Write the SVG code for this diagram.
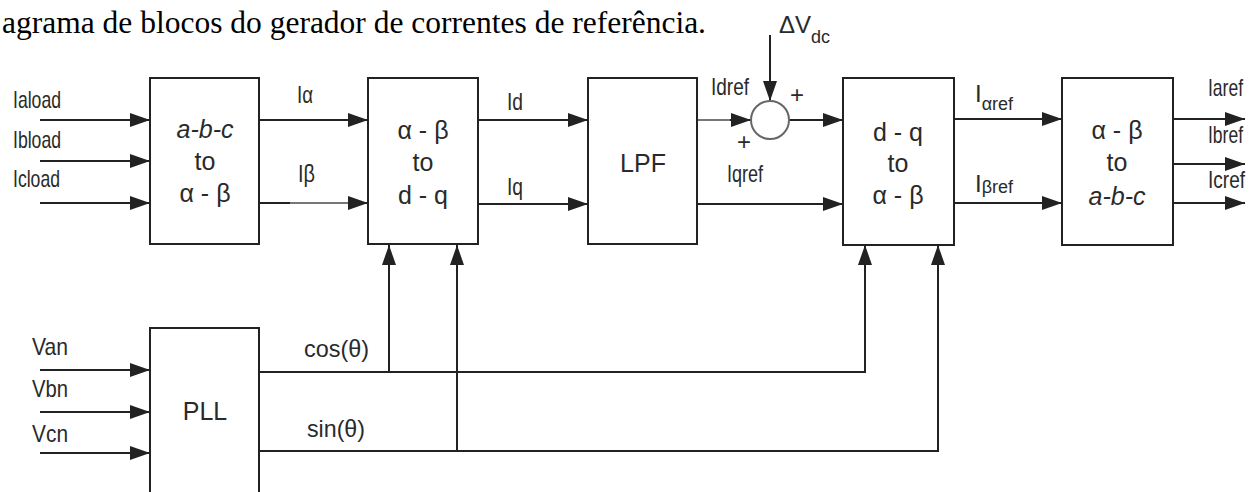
<svg xmlns="http://www.w3.org/2000/svg" width="1260" height="492" viewBox="0 0 1260 492">
<style>
.box{fill:#fff;stroke:#222;stroke-width:2}
.ln{fill:none;stroke:#222;stroke-width:2}
.lg{fill:none;stroke:#777;stroke-width:2}
.bt{font-family:"Liberation Sans",Arial,sans-serif;font-size:25px;fill:#2a2a2a;text-anchor:middle}
.lb{font-family:"Liberation Sans",Arial,sans-serif;font-size:24px;fill:#2a2a2a}
.sb{font-size:18px}
.pl{font-family:"Liberation Sans",Arial,sans-serif;font-size:24px;fill:#2a2a2a;text-anchor:middle}
.title{font-family:"Liberation Serif","Times New Roman",serif;font-size:31.5px;fill:#000}
</style>
<defs>
<marker id="ah" markerUnits="userSpaceOnUse" markerWidth="20" markerHeight="14" refX="20" refY="7" orient="auto">
<path d="M0,0 L20,7 L0,14 Z" fill="#222"/>
</marker>
</defs>
<rect width="1260" height="492" fill="#fff"/>
<text class="title" x="2" y="33">agrama de blocos do gerador de correntes de referência.</text>

<g id="connectors">
<path class="ln" d="M40,120 H150" marker-end="url(#ah)"/>
<path class="ln" d="M40,161 H150" marker-end="url(#ah)"/>
<path class="ln" d="M40,203 H150" marker-end="url(#ah)"/>
<path class="ln" d="M259,120 H368" marker-end="url(#ah)"/>
<path class="ln" d="M259,203 H290"/>
<path class="lg" d="M290,203 H350"/>
<path class="ln" d="M348,203 H368" marker-end="url(#ah)"/>
<path class="ln" d="M478,120 H588" marker-end="url(#ah)"/>
<path class="ln" d="M478,204 H588" marker-end="url(#ah)"/>
<path class="lg" d="M697,120 H735"/>
<path class="ln" d="M730,120 H751" marker-end="url(#ah)"/>
<path class="ln" d="M770,35 V101" marker-end="url(#ah)"/>
<path class="ln" d="M789,120 H843" marker-end="url(#ah)"/>
<path class="ln" d="M697,204 H843" marker-end="url(#ah)"/>
<path class="ln" d="M954,119 H1062" marker-end="url(#ah)"/>
<path class="ln" d="M954,203 H1062" marker-end="url(#ah)"/>
<path class="ln" d="M1173,119 H1245" marker-end="url(#ah)"/>
<path class="ln" d="M1173,164 H1245" marker-end="url(#ah)"/>
<path class="ln" d="M1173,203 H1245" marker-end="url(#ah)"/>
<path class="ln" d="M40,370 H150" marker-end="url(#ah)"/>
<path class="ln" d="M40,412 H150" marker-end="url(#ah)"/>
<path class="ln" d="M40,453 H150" marker-end="url(#ah)"/>
<path class="ln" d="M259,372 H865 V245" marker-end="url(#ah)"/>
<path class="ln" d="M389,372 V245" marker-end="url(#ah)"/>
<path class="ln" d="M259,451 H938 V245" marker-end="url(#ah)"/>
<path class="ln" d="M457,451 V245" marker-end="url(#ah)"/>
</g>

<g id="abc2ab">
<rect class="box" x="150" y="78" width="109" height="166"/>
<text class="bt" x="205" y="138" font-style="italic">a-b-c</text>
<text class="bt" x="205" y="170">to</text>
<text class="bt" x="205" y="202">α - β</text>
</g>
<g id="ab2dq">
<rect class="box" x="368" y="78" width="110" height="166"/>
<text class="bt" x="423" y="139">α - β</text>
<text class="bt" x="423" y="171">to</text>
<text class="bt" x="423" y="204">d - q</text>
</g>
<g id="lpf">
<rect class="box" x="588" y="78" width="109" height="166"/>
<text class="bt" x="643" y="172">LPF</text>
</g>
<g id="sum">
<circle cx="770" cy="120" r="19" fill="#fff" stroke="#666" stroke-width="2"/>
<text class="pl" x="797" y="103">+</text>
<text class="pl" x="744" y="150">+</text>
</g>
<g id="dq2ab">
<rect class="box" x="843" y="78" width="111" height="167"/>
<text class="bt" x="898" y="141">d - q</text>
<text class="bt" x="898" y="172">to</text>
<text class="bt" x="898" y="204">α - β</text>
</g>
<g id="ab2abc">
<rect class="box" x="1062" y="78" width="111" height="167"/>
<text class="bt" x="1117" y="139">α - β</text>
<text class="bt" x="1117" y="171">to</text>
<text class="bt" x="1117" y="205" font-style="italic">a-b-c</text>
</g>
<g id="pll">
<path class="box" d="M150,500 V328 H259 V500"/>
<text class="bt" x="205" y="420">PLL</text>
</g>

<g id="labels">
<text class="lb" x="13" y="108" textLength="48" lengthAdjust="spacingAndGlyphs">Iaload</text>
<text class="lb" x="13" y="148" textLength="48" lengthAdjust="spacingAndGlyphs">Ibload</text>
<text class="lb" x="13" y="187" textLength="47" lengthAdjust="spacingAndGlyphs">Icload</text>
<text class="lb" x="297" y="103" textLength="16" lengthAdjust="spacingAndGlyphs">Iα</text>
<text class="lb" x="298" y="182" textLength="17" lengthAdjust="spacingAndGlyphs">Iβ</text>
<text class="lb" x="507" y="110" textLength="16" lengthAdjust="spacingAndGlyphs">Id</text>
<text class="lb" x="507" y="195" textLength="16" lengthAdjust="spacingAndGlyphs">Iq</text>
<text class="lb" x="711" y="95" textLength="38" lengthAdjust="spacingAndGlyphs">Idref</text>
<text class="lb" x="727" y="182" textLength="36" lengthAdjust="spacingAndGlyphs">Iqref</text>
<text class="lb" x="779" y="33" font-size="28">ΔV<tspan class="sb" font-size="19" dy="10">dc</tspan></text>
<text class="lb" x="975" y="102">I<tspan class="sb" dy="8">αref</tspan></text>
<text class="lb" x="975" y="192">I<tspan class="sb" dy="1">βref</tspan></text>
<text class="lb" x="1208" y="96" textLength="35" lengthAdjust="spacingAndGlyphs">Iaref</text>
<text class="lb" x="1208" y="143" textLength="35" lengthAdjust="spacingAndGlyphs">Ibref</text>
<text class="lb" x="1208" y="188" textLength="37" lengthAdjust="spacingAndGlyphs">Icref</text>
<text class="lb" x="32" y="355" textLength="36" lengthAdjust="spacingAndGlyphs">Van</text>
<text class="lb" x="32" y="397" textLength="36" lengthAdjust="spacingAndGlyphs">Vbn</text>
<text class="lb" x="32" y="442" textLength="36" lengthAdjust="spacingAndGlyphs">Vcn</text>
<text class="lb" x="304" y="357" textLength="65" lengthAdjust="spacingAndGlyphs">cos(θ)</text>
<text class="lb" x="307" y="437" textLength="58" lengthAdjust="spacingAndGlyphs">sin(θ)</text>
</g>
</svg>
